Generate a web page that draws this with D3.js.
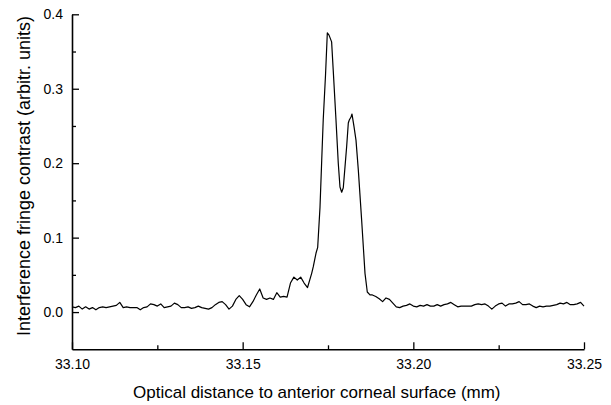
<!DOCTYPE html>
<html>
<head>
<meta charset="utf-8">
<script src="https://cdn.jsdelivr.net/npm/d3@7"></script>
<style>
body { margin: 0; background: #fff; }
text { font-family: "Liberation Sans", Arial, sans-serif; fill: #000; }
</style>
</head>
<body>
<div id="chart"></div>
<script>
// optical distance (mm) and fringe contrast
// (denser sampling through the double peak)
var distance = [
  33.100,33.101,33.102,33.103,33.104,33.105,33.106,33.107,33.108,33.109,
  33.110,33.111,33.112,33.113,33.114,33.115,33.116,33.117,33.118,33.119,
  33.120,33.121,33.122,33.123,33.124,33.125,33.126,33.127,33.128,33.129,
  33.130,33.131,33.132,33.133,33.134,33.135,33.136,33.137,33.138,33.139,
  33.140,33.141,33.142,33.143,33.144,33.145,33.146,33.147,33.148,33.149,
  33.150,33.151,33.152,33.153,33.154,33.155,33.156,33.157,33.158,33.159,
  33.160,33.161,33.162,33.163,33.164,33.165,33.166,33.167,33.168,33.169,
  33.17022,33.17069,33.17148,33.17198,33.17266,33.17316,33.17360,33.17427,
  33.17480,33.17530,33.17606,33.17653,33.17734,33.17801,33.17851,33.17901,
  33.17948,33.17998,33.18046,33.18095,33.18124,33.18174,33.18203,33.18262,
  33.18320,33.18388,33.18485,33.18584,33.18651,33.18730,
  33.188,33.189,
  33.190,33.191,33.192,33.193,33.194,33.195,33.196,33.197,33.198,33.199,
  33.200,33.201,33.202,33.203,33.204,33.205,33.206,33.207,33.208,33.209,
  33.210,33.211,33.212,33.213,33.214,33.215,33.216,33.217,33.218,33.219,
  33.220,33.221,33.222,33.223,33.224,33.225,33.226,33.227,33.228,33.229,
  33.230,33.231,33.232,33.233,33.234,33.235,33.236,33.237,33.238,33.239,
  33.240,33.241,33.242,33.243,33.244,33.245,33.246,33.247,33.248,33.249,
  33.250
];
var contrast = [
  0.007,0.006,0.008,0.004,0.007,0.004,0.006,0.003,0.006,0.007,
  0.006,0.007,0.008,0.009,0.013,0.006,0.007,0.006,0.006,0.006,
  0.003,0.006,0.007,0.011,0.010,0.008,0.011,0.006,0.007,0.008,
  0.012,0.010,0.006,0.006,0.007,0.005,0.006,0.008,0.006,0.005,
  0.004,0.006,0.010,0.013,0.014,0.010,0.004,0.008,0.017,0.022,
  0.017,0.010,0.007,0.014,0.023,0.031,0.019,0.017,0.019,0.017,
  0.026,0.020,0.021,0.020,0.039,0.047,0.043,0.047,0.039,0.033,
  0.052,0.061,0.079,0.087,0.141,0.204,0.258,0.318,
  0.375,0.372,0.363,0.325,0.258,0.200,0.168,0.161,
  0.167,0.195,0.222,0.254,0.258,0.262,0.266,0.249,
  0.231,0.191,0.124,0.052,0.027,0.023,
  0.023,0.021,
  0.018,0.014,0.019,0.017,0.012,0.007,0.006,0.008,0.009,0.011,
  0.008,0.007,0.009,0.008,0.010,0.008,0.008,0.010,0.008,0.010,
  0.011,0.013,0.010,0.007,0.008,0.008,0.008,0.008,0.010,0.011,
  0.010,0.011,0.008,0.004,0.008,0.011,0.012,0.008,0.011,0.011,
  0.012,0.014,0.010,0.010,0.011,0.008,0.006,0.008,0.007,0.008,
  0.008,0.009,0.010,0.012,0.011,0.013,0.010,0.010,0.011,0.013,
  0.008
];
var xTicks = [33.10, 33.15, 33.20, 33.25];
var xMinor = [33.125, 33.175, 33.225];
var yTicks = [0.0, 0.1, 0.2, 0.3, 0.4];
var yMinor = [0.05, 0.15, 0.25, 0.35];

var width = 611, height = 405;
var margin = {left: 72, right: 27, top: 14.3, bottom: 55.7};

var svg = d3.select("#chart").append("svg")
    .attr("width", width)
    .attr("height", height);

var x = d3.scaleLinear()
    .domain([33.10, 33.25])
    .range([margin.left, width - margin.right]);

var y = d3.scaleLinear()
    .domain([-0.05, 0.4])
    .range([height - margin.bottom, margin.top]);

// minor ticks first, majors on top
svg.append("g")
    .attr("transform", "translate(0," + (height - margin.bottom) + ")")
    .call(d3.axisBottom(x).tickValues(xMinor).tickSize(-4).tickFormat(""))
    .call(function(g){ g.select(".domain").remove(); });

svg.append("g")
    .attr("transform", "translate(" + margin.left + ",0)")
    .call(d3.axisLeft(y).tickValues(yMinor).tickSize(-4).tickFormat(""))
    .call(function(g){ g.select(".domain").remove(); });

var xAxis = svg.append("g")
    .attr("transform", "translate(0," + (height - margin.bottom) + ")")
    .call(d3.axisBottom(x).tickValues(xTicks).tickSizeInner(-7).tickSizeOuter(0)
        .tickPadding(10).tickFormat(d3.format(".2f")));

var yAxis = svg.append("g")
    .attr("transform", "translate(" + margin.left + ",0)")
    .call(d3.axisLeft(y).tickValues(yTicks).tickSizeInner(-7).tickSizeOuter(0)
        .tickPadding(9).tickFormat(d3.format(".1f")));

svg.selectAll(".tick line").attr("stroke", "#000").attr("stroke-width", 1.3);
svg.selectAll(".domain").attr("stroke", "#000").attr("stroke-width", 1.6);
svg.selectAll(".tick text")
    .attr("font-size", "14px")
    .attr("font-family", "'Liberation Sans', Arial, sans-serif");

// the trace
var line = d3.line()
    .x(function(d, i){ return x(distance[i]); })
    .y(function(d){ return y(d); });

svg.append("path")
    .datum(contrast)
    .attr("d", line)
    .attr("fill", "none")
    .attr("stroke", "#000")
    .attr("stroke-width", 1.2)
    .attr("stroke-linejoin", "round");

// axis titles
svg.append("text")
    .attr("x", 133)
    .attr("y", 398)
    .attr("font-size", "17px")
    .text("Optical distance to anterior corneal surface (mm)");

svg.append("text")
    .attr("transform", "translate(30,176) rotate(-90)")
    .attr("text-anchor", "middle")
    .attr("font-size", "18px")
    .text("Interference fringe contrast (arbitr. units)");
</script>
</body>
</html>
